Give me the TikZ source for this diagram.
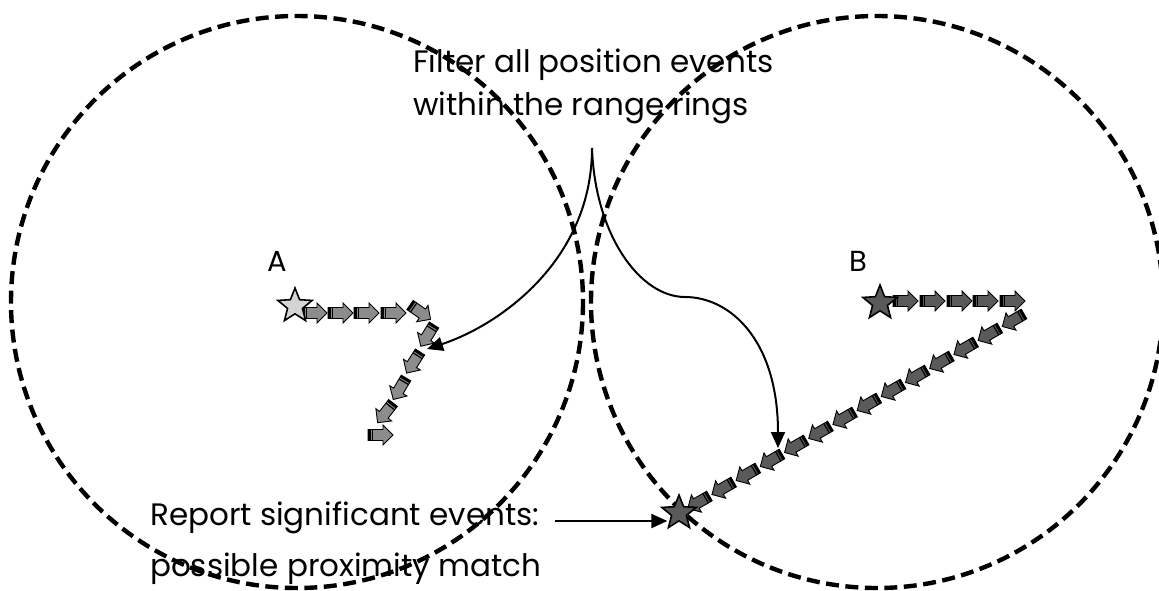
\documentclass[tikz,border=0pt]{standalone}
\usepackage{fontspec}
\newfontfamily\comic{Poppins}
\usetikzlibrary{shapes.geometric,arrows.meta}
\definecolor{trkA}{HTML}{8C8C8C}
\definecolor{trkB}{HTML}{5A5A5A}
\definecolor{starA}{HTML}{D4D4D4}
\tikzset{
  ring/.style={draw=black, line width=4.4pt, dash pattern=on 13pt off 6.5pt},
  conn/.style={line width=2pt, -{Triangle[length=16pt,width=14pt]}},
  lbl/.style={font=\comic\fontsize{31}{34}\selectfont, anchor=base west, inner sep=0pt},
  ptlbl/.style={font=\comic\fontsize{29}{32}\selectfont, inner sep=0pt},
  starnode/.style={star, star points=5, star point ratio=2.3, draw=black, line width=1.6pt, minimum size=36pt, inner sep=0pt},
  pics/trk/.style={code={
    \filldraw[fill=#1, draw=black, line width=0.9pt, line join=miter]
      (0,-5.5)--(15,-5.5)--(15,-10)--(25,0)--(15,10)--(15,5.5)--(0,5.5)--cycle;
    \fill[black] (0,-5.5) rectangle (2.6,5.5);
    \fill[black] (3.8,-5.5) rectangle (5,5.5);
  }}
}
\begin{document}
\begin{tikzpicture}[x=1pt,y=-1pt]
\useasboundingbox (0,0) rectangle (1159,590);
% texts
\node[lbl] (f1) at (413,72) {Filter all position events};
\node[lbl] (f2) at (413,115) {within the range rings};
\node[lbl] (r1) at (150,525) {Report significant events:};
\node[lbl] (r2) at (150,576) {possible proximity match};
\node[ptlbl] (la) at (277,261) {A};
\node[ptlbl] (lb) at (858,261) {B};
% range rings
\draw[ring] (297,302) circle[radius=286];
\draw[ring] (877,302) circle[radius=286];
% track A
\foreach \x in {302,328,354,381} \pic at (\x,313) {trk=trkA};
\pic[rotate=-34.8] at (410,305) {trk=trkA};
\pic[rotate=-121.8] at (434,325) {trk=trkA};
\pic[rotate=-122.5] at (420,352) {trk=trkA};
\pic[rotate=-120.6] at (406,378) {trk=trkA};
\pic[rotate=-128] at (393,403) {trk=trkA};
\pic at (368,435) {trk=trkA};
% track B
\foreach \x in {893,920,947,973,1000} \pic at (\x,301) {trk=trkB};
\foreach \k in {0,...,13} \pic[rotate=-150] at ({1024-24.2*\k},{314+14*\k}) {trk=trkB};
% stars
\node[starnode, fill=starA] (sA) at (295,306) {};
\node[starnode, fill=trkB] (sB) at (880,303) {};
\node[starnode, fill=trkB] (sC) at (679,513) {};
% connectors
\coordinate (apex) at (592,148);
\coordinate (hitA) at (427,349);
\coordinate (bend) at (685,297);
\coordinate (hitB) at (778,448);
\coordinate (rep) at (555,521);
\draw[conn] (apex) .. controls (592,260) and (500,325) .. (hitA);
\draw[conn] (apex) .. controls (595,235) and (640,297) .. (bend)
            .. controls (730,297) and (778,340) .. (hitB);
\draw[conn] (rep) -- (rep -| sC.west);
\end{tikzpicture}
\end{document}
